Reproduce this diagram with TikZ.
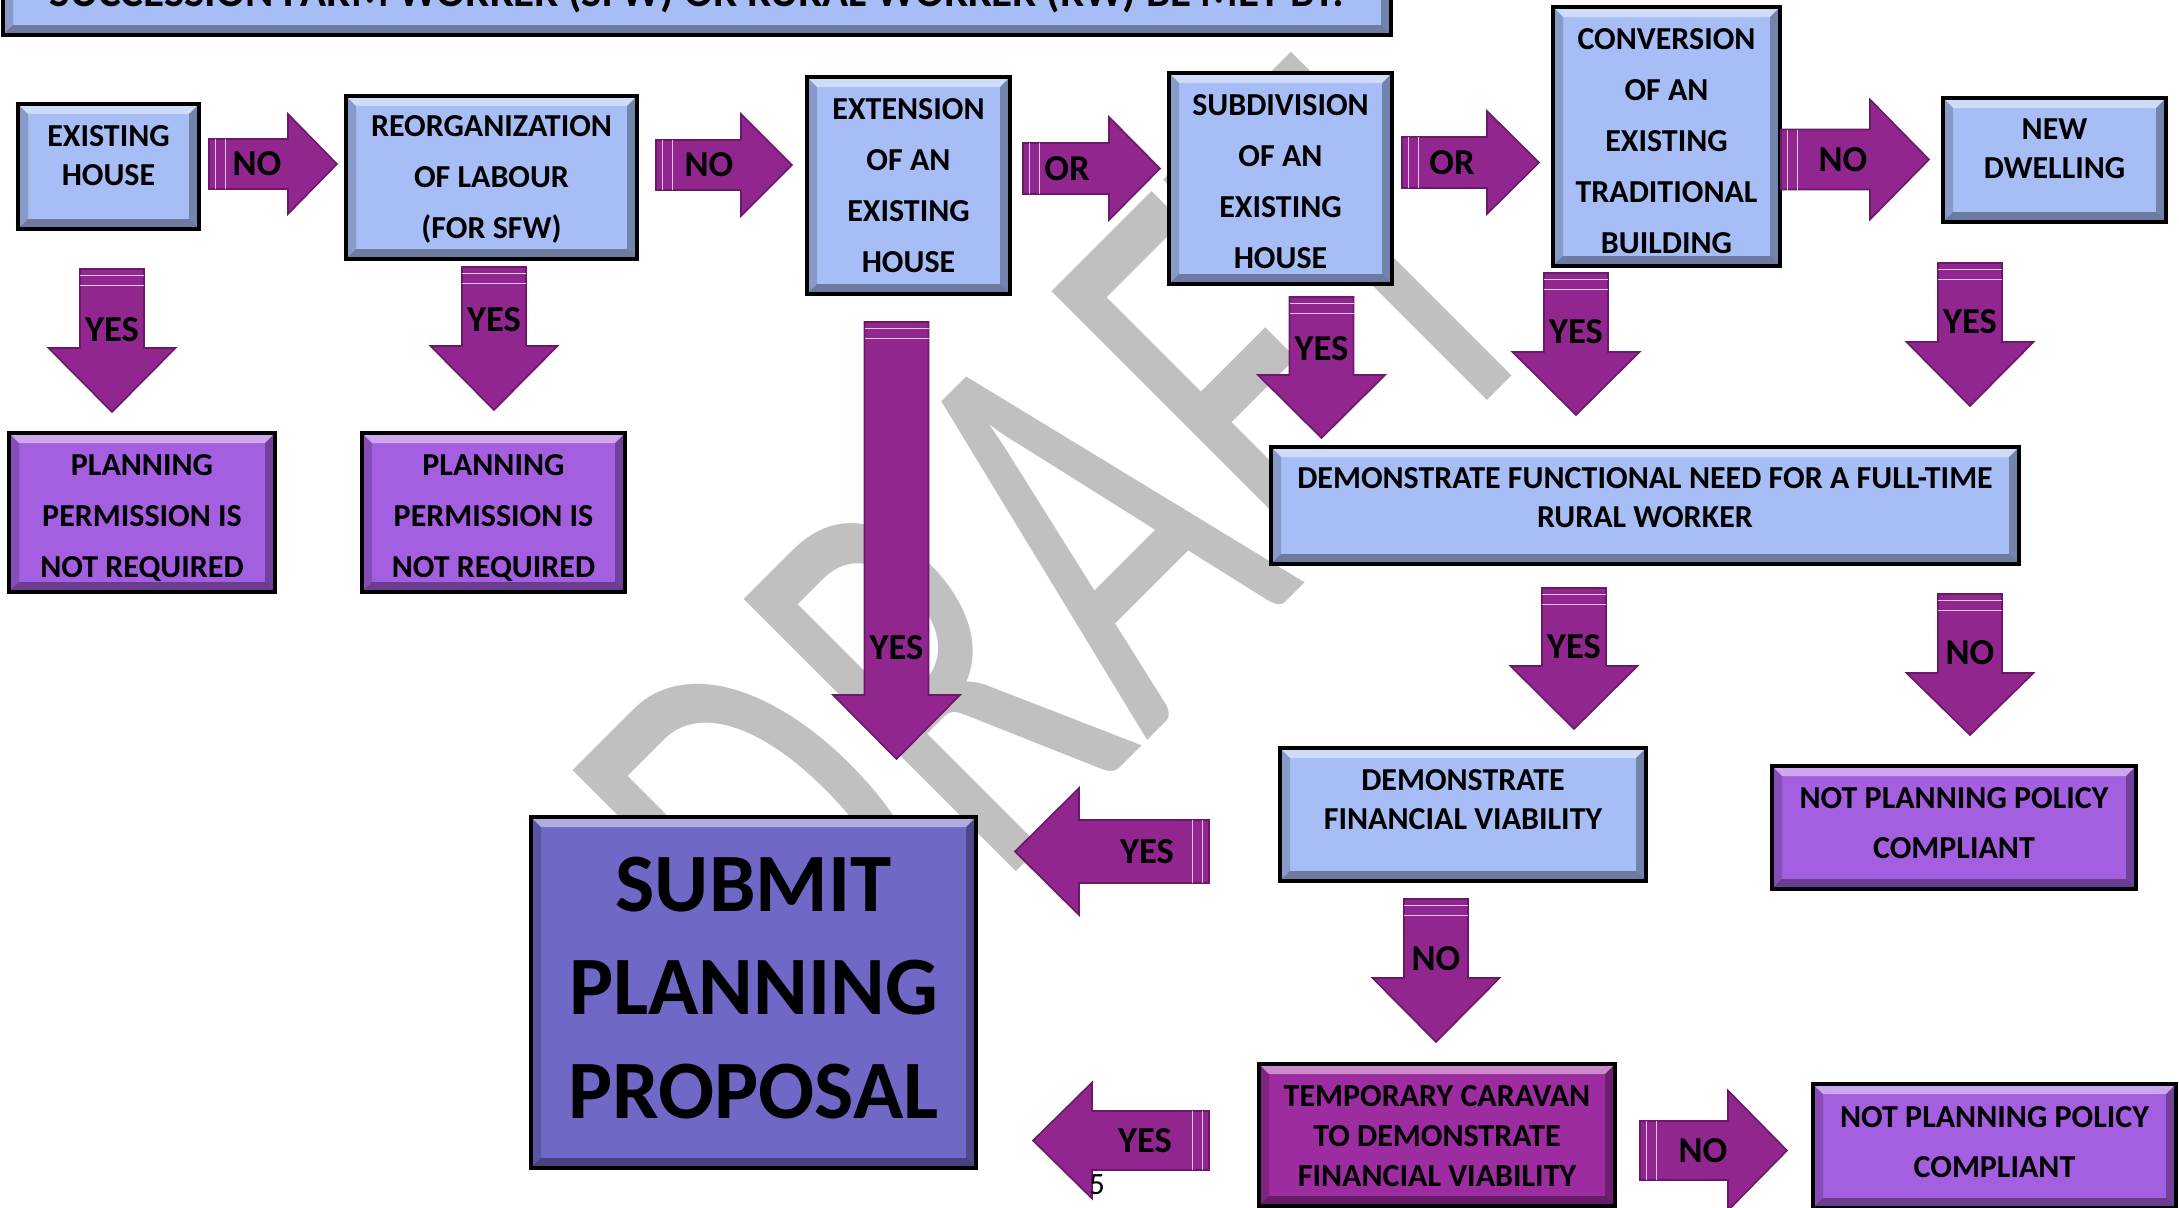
\documentclass[tikz,border=0pt]{standalone}
\usepackage{fontspec}
\setmainfont{Carlito}
\usepackage{graphicx}
\usetikzlibrary{fit}
\definecolor{boxblue}{RGB}{166,190,245}
\definecolor{boxpurple}{RGB}{164,94,224}
\definecolor{boxmagenta}{RGB}{157,44,160}
\definecolor{boxslate}{RGB}{111,104,198}
\definecolor{arrowfill}{RGB}{146,38,143}
\definecolor{arrowedge}{RGB}{108,24,104}
\definecolor{stripecol}{RGB}{228,196,228}
\definecolor{wmgray}{RGB}{192,192,192}
\tikzset{
  bevel/.style={path picture={
    \fill[white,opacity=.45] (path picture bounding box.north west) -- (path picture bounding box.north east)
      -- ([xshift=-5pt,yshift=-5pt]path picture bounding box.north east) -- ([xshift=5pt,yshift=-5pt]path picture bounding box.north west) -- cycle;
    \fill[black,opacity=.35] (path picture bounding box.south west) -- (path picture bounding box.south east)
      -- ([xshift=-5pt,yshift=5pt]path picture bounding box.south east) -- ([xshift=5pt,yshift=5pt]path picture bounding box.south west) -- cycle;
    \fill[black,opacity=.18] (path picture bounding box.north west) -- (path picture bounding box.south west)
      -- ([xshift=5pt,yshift=5pt]path picture bounding box.south west) -- ([xshift=5pt,yshift=-5pt]path picture bounding box.north west) -- cycle;
    \fill[black,opacity=.30] (path picture bounding box.north east) -- (path picture bounding box.south east)
      -- ([xshift=-5pt,yshift=5pt]path picture bounding box.south east) -- ([xshift=-5pt,yshift=-5pt]path picture bounding box.north east) -- cycle;
  }},
  panel/.style={draw=black, line width=1.6pt, inner sep=0pt, outer sep=0pt, bevel},
  bluebox/.style={panel, fill=boxblue},
  purplebox/.style={panel, fill=boxpurple},
  magentabox/.style={panel, fill=boxmagenta},
  slatebox/.style={panel, fill=boxslate},
  boxtext/.style={font=\bfseries\fontsize{16}{#1}\selectfont, align=center, inner sep=0pt, text=black},
  titletext/.style={font=\bfseries\fontsize{21.5}{24}\selectfont, inner sep=0pt, text=black},
  submittext/.style={font=\bfseries\fontsize{41.5}{51.75}\selectfont, align=center, inner sep=0pt, text=black},
  arrowshape/.style={fill=arrowfill, draw=arrowedge, line width=0.8pt, line join=miter},
  stripe/.style={draw=stripecol, line width=0.9pt},
  arrowlabel/.style={font=\bfseries\fontsize{18.25}{20}\selectfont, inner sep=0pt, text=black},
}
\newcommand\panelnode[9]{%
  \node[#1, fit={(#3,#4) (#5,#6)}] (#2) {};
  \node[#8] (#2-t) at ({(#3+#5)/2},#7) {#9};
}
% name, xtail, xbase, xtip, cy, shaft half, head half, label x, text
\newcommand\harrow[9]{%
  \pgfmathsetmacro\harrowsgn{sign(#3-#2)}%
  \path[arrowshape] (#2,#5-#6) -- (#3,#5-#6) -- (#3,#5-#7) -- (#4,#5) -- (#3,#5+#7) -- (#3,#5+#6) -- (#2,#5+#6) -- cycle;
  \draw[stripe] ({#2+\harrowsgn*6.5},#5-#6) -- ({#2+\harrowsgn*6.5},#5+#6);
  \draw[stripe] ({#2+\harrowsgn*16.5},#5-#6) -- ({#2+\harrowsgn*16.5},#5+#6);
  \node[arrowlabel] (#1) at (#8,#5) {#9};
}
% name, cx, ytop, ybase, ytip, label y, text
\newcommand\varrow[7]{%
  \path[arrowshape] (#2-32,#3) -- (#2+32,#3) -- (#2+32,#4) -- (#2+63.5,#4) -- (#2,#5) -- (#2-63.5,#4) -- (#2-32,#4) -- cycle;
  \draw[stripe] (#2-32,#3+6.5) -- (#2+32,#3+6.5);
  \draw[stripe] (#2-32,#3+16.5) -- (#2+32,#3+16.5);
  \node[arrowlabel] (#1) at (#2,#6) {#7};
}
\begin{document}
\begin{tikzpicture}[x=0.5pt,y=-0.5pt]
\useasboundingbox (0,0) rectangle (2179,1207);
\clip (0,0) rectangle (2179,1207);
\fill[white] (0,0) rectangle (2179,1207);
% watermark
\node[rotate=45, anchor=base west, inner sep=0pt, text=wmgray, font=\fontsize{300}{300}\selectfont] (draft) at (826.5,1061.5) {\scalebox{0.65}[1]{DRAFT}};
% boxes
\panelnode{bluebox}{title}{3}{-40}{1391}{35}{-6}{titletext}{SUCCESSION FARM WORKER (SFW) OR RURAL WORKER (RW) BE MET BY:}
\panelnode{bluebox}{exist}{18}{104}{199}{229}{156}{boxtext=19.5}{EXISTING\\HOUSE}
\panelnode{bluebox}{reorg}{346}{96}{637}{259}{179}{boxtext=25.5}{REORGANIZATION\\OF LABOUR\\(FOR SFW)}
\panelnode{bluebox}{ext}{807}{77}{1010}{294}{186}{boxtext=25.5}{EXTENSION\\OF AN\\EXISTING\\HOUSE}
\panelnode{bluebox}{subdiv}{1169}{73}{1392}{284}{181.5}{boxtext=25.5}{SUBDIVISION\\OF AN\\EXISTING\\HOUSE}
\panelnode{bluebox}{conv}{1553}{7}{1780}{266}{141}{boxtext=25.5}{CONVERSION\\OF AN\\EXISTING\\TRADITIONAL\\BUILDING}
\panelnode{bluebox}{newdw}{1943}{98}{2166}{222}{149}{boxtext=19.5}{NEW\\DWELLING}
\panelnode{purplebox}{plan1}{9}{433}{275}{592}{517.5}{boxtext=25.5}{PLANNING\\PERMISSION IS\\NOT REQUIRED}
\panelnode{purplebox}{plan2}{362}{433}{625}{592}{517.5}{boxtext=25.5}{PLANNING\\PERMISSION IS\\NOT REQUIRED}
\panelnode{bluebox}{func}{1271}{447}{2019}{564}{497.5}{boxtext=19.5}{DEMONSTRATE FUNCTIONAL NEED FOR A FULL-TIME\\RURAL WORKER}
\panelnode{bluebox}{fin}{1280}{748}{1646}{881}{799.5}{boxtext=19.5}{DEMONSTRATE\\FINANCIAL VIABILITY}
\panelnode{purplebox}{notpla}{1772}{766}{2136}{889}{823}{boxtext=25}{NOT PLANNING POLICY\\COMPLIANT}
\panelnode{slatebox}{submit}{531}{817}{976}{1168}{988}{submittext}{SUBMIT\\PLANNING\\PROPOSAL}
\panelnode{magentabox}{carav}{1259}{1064}{1615}{1206}{1136}{boxtext=20}{TEMPORARY CARAVAN\\TO DEMONSTRATE\\FINANCIAL VIABILITY}
\panelnode{purplebox}{notplb}{1813}{1084}{2176}{1208}{1142}{boxtext=25}{NOT PLANNING POLICY\\COMPLIANT}
% horizontal arrows
\harrow{noA}{209}{288}{337}{164}{25}{50}{257}{NO}
\harrow{noB}{656}{741}{792}{165}{25}{51}{709}{NO}
\harrow{orA}{1023}{1109}{1160}{168.5}{25.5}{51.5}{1067}{OR}
\harrow{orB}{1402}{1487}{1539}{162.5}{25.5}{51.5}{1452}{OR}
\harrow{noC}{1781}{1870}{1929}{159.5}{30}{60}{1843}{NO}
\harrow{yesLA}{1209}{1079}{1015}{851.5}{31.5}{63.5}{1147}{YES}
\harrow{yesLB}{1209}{1092}{1033}{1140.5}{29.5}{58}{1145}{YES}
\harrow{noD}{1640}{1728}{1787}{1150.5}{29.5}{60}{1703}{NO}
% vertical arrows
\varrow{yesA}{112}{269}{348}{412}{330}{YES}
\varrow{yesB}{494}{267}{346}{410}{320}{YES}
\varrow{yesC}{896.5}{322}{695}{759}{648}{YES}
\varrow{yesD}{1321.5}{297}{375}{438}{349}{YES}
\varrow{yesE}{1576}{273}{352}{415}{332}{YES}
\varrow{yesF}{1970}{263}{342}{406}{322}{YES}
\varrow{yesG}{1574}{588}{666}{729}{647}{YES}
\varrow{noE}{1970}{594}{673}{735}{653}{NO}
\varrow{noF}{1436}{899}{978}{1042}{959}{NO}
% page number
\node[anchor=base, inner sep=0pt, font=\fontsize{15.5}{18}\selectfont] (pagenum) at (1097,1194) {5};
\end{tikzpicture}
\end{document}
